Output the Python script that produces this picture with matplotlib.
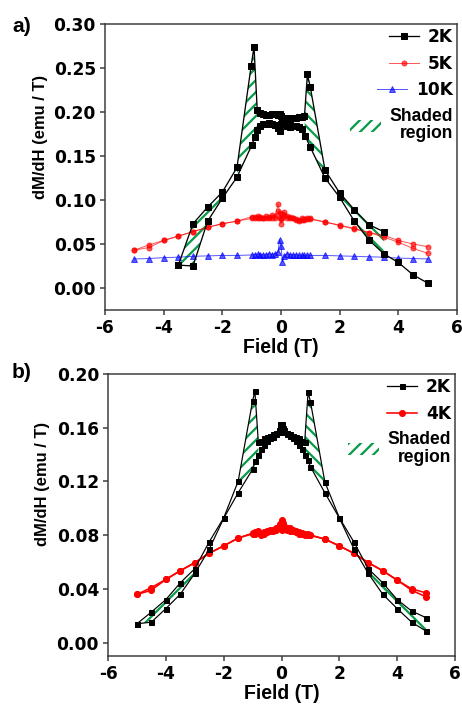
import numpy as np
import matplotlib
matplotlib.use('Agg')
import matplotlib.pyplot as plt
from matplotlib.lines import Line2D
from matplotlib.patches import Patch

plt.rcParams['axes.unicode_minus'] = False
plt.rcParams['hatch.linewidth'] = 2.3

# ---------------- data: panel a ----------------
x2a_desc = [5, 4.5, 4, 3.5, 3, 2.5, 2, 1.5, 1.0, 0.82, 0.7, 0.6, 0.5, 0.4, 0.3, 0.2, 0.1, 0.05, 0,
            -0.05, -0.1, -0.2, -0.3, -0.4, -0.5, -0.6, -0.7, -0.81, -0.92, -1.02, -1.5, -2, -2.5, -3, -3.5]
y2a_desc = [0.0056, 0.015, 0.029, 0.039, 0.0545, 0.076, 0.103, 0.125, 0.160, 0.173, 0.181, 0.183, 0.184,
            0.184, 0.183, 0.184, 0.186, 0.190, 0.195, 0.198, 0.197, 0.198, 0.198, 0.197, 0.197, 0.198,
            0.199, 0.202, 0.274, 0.252, 0.137, 0.109, 0.092, 0.073, 0.026]
x2a_asc = [-3.5, -3, -2.5, -2, -1.5, -1.0, -0.89, -0.83, -0.7, -0.6, -0.5, -0.4, -0.3, -0.2, -0.1, -0.05,
           0, 0.05, 0.1, 0.2, 0.3, 0.4, 0.5, 0.6, 0.7, 0.8, 0.9, 1.0, 1.5, 2, 2.5, 3, 3.5]
y2a_asc = [0.026, 0.025, 0.076, 0.102, 0.126, 0.162, 0.172, 0.180, 0.184, 0.186, 0.186, 0.187, 0.186,
           0.185, 0.182, 0.178, 0.186, 0.190, 0.193, 0.193, 0.192, 0.193, 0.193, 0.194, 0.194, 0.195,
           0.243, 0.228, 0.134, 0.108, 0.089, 0.072, 0.064]

x_grid = [-5, -4.5, -4, -3.5, -3, -2.5, -2, -1.5, -1, -0.9, -0.8, -0.7, -0.6, -0.5, -0.4, -0.3, -0.2,
          -0.1, -0.05, 0, 0.05, 0.1, 0.2, 0.3, 0.4, 0.5, 0.6, 0.7, 0.8, 0.9, 1, 1.5, 2, 2.5, 3, 3.5,
          4, 4.5, 5]
y5a_1 = [0.043, 0.046, 0.054, 0.059, 0.064, 0.069, 0.073, 0.076, 0.079, 0.081, 0.082, 0.080, 0.079,
         0.080, 0.081, 0.080, 0.082, 0.095, 0.085, 0.078, 0.084, 0.086, 0.082, 0.081, 0.079, 0.077,
         0.076, 0.077, 0.078, 0.079, 0.078, 0.075, 0.0714, 0.0677, 0.063, 0.060, 0.054, 0.050, 0.047]
y5a_2 = [0.043, 0.049, 0.054, 0.059, 0.064, 0.069, 0.073, 0.076, 0.081, 0.080, 0.079, 0.081, 0.080,
         0.082, 0.079, 0.083, 0.080, 0.087, 0.080, 0.073, 0.079, 0.083, 0.080, 0.079, 0.080, 0.078,
         0.077, 0.079, 0.077, 0.078, 0.079, 0.075, 0.071, 0.067, 0.063, 0.058, 0.052, 0.045, 0.0395]
y10a = [0.033, 0.0335, 0.0345, 0.035, 0.036, 0.0365, 0.037, 0.037, 0.0375, 0.038, 0.0385, 0.038,
        0.0375, 0.038, 0.039, 0.038, 0.039, 0.041, 0.055, 0.048, 0.030, 0.036, 0.039, 0.038, 0.0375,
        0.038, 0.037, 0.0375, 0.037, 0.0375, 0.037, 0.037, 0.0365, 0.036, 0.0355, 0.035, 0.034,
        0.0335, 0.033]

# ---------------- data: panel b ----------------
x2b_desc = [5, 4.5, 4, 3.5, 3, 2.5, 2, 1.5, 1.0, 0.9, 0.8, 0.7, 0.6, 0.5, 0.4, 0.3, 0.2, 0.1, 0.05, 0,
            -0.05, -0.1, -0.2, -0.3, -0.4, -0.5, -0.6, -0.7, -0.8, -0.92, -1.0, -1.5, -2, -2.5, -3,
            -3.5, -4, -4.5, -5]
y2b_desc = [0.0085, 0.0152, 0.0253, 0.036, 0.0515, 0.070, 0.0928, 0.1115, 0.131, 0.136, 0.140, 0.144,
            0.147, 0.150, 0.152, 0.154, 0.155, 0.157, 0.159, 0.161, 0.163, 0.158, 0.156, 0.155, 0.154,
            0.153, 0.152, 0.150, 0.149, 0.187, 0.180, 0.120, 0.0928, 0.075, 0.055, 0.0445, 0.032,
            0.0227, 0.014]
x2b_asc = [-5, -4.5, -4, -3.5, -3, -2.5, -2, -1.5, -1.0, -0.9, -0.8, -0.7, -0.6, -0.5, -0.4, -0.3,
           -0.2, -0.1, -0.05, 0, 0.05, 0.1, 0.2, 0.3, 0.4, 0.5, 0.6, 0.7, 0.8, 0.92, 1.0, 1.5, 2, 2.5,
           3, 3.5, 4, 4.5, 5]
y2b_asc = [0.014, 0.0152, 0.0253, 0.036, 0.0515, 0.0695, 0.0925, 0.1115, 0.129, 0.135, 0.140, 0.144,
           0.147, 0.150, 0.152, 0.153, 0.155, 0.157, 0.159, 0.163, 0.160, 0.158, 0.156, 0.155, 0.154,
           0.153, 0.152, 0.150, 0.149, 0.1865, 0.1795, 0.1195, 0.093, 0.075, 0.055, 0.0445, 0.032,
           0.0235, 0.0185]
y4b_1 = [0.0358, 0.041, 0.047, 0.0535, 0.0595, 0.0665, 0.072, 0.0778, 0.081, 0.082, 0.083, 0.081,
         0.082, 0.083, 0.084, 0.084, 0.085, 0.086, 0.088, 0.091, 0.089, 0.087, 0.085, 0.085, 0.084,
         0.083, 0.082, 0.081, 0.081, 0.080, 0.080, 0.077, 0.072, 0.0665, 0.0595, 0.0535, 0.0465,
         0.040, 0.037]
y4b_2 = [0.0358, 0.039, 0.047, 0.0535, 0.0595, 0.0665, 0.072, 0.0778, 0.0815, 0.081, 0.082, 0.080,
         0.081, 0.082, 0.083, 0.083, 0.084, 0.085, 0.086, 0.084, 0.086, 0.085, 0.084, 0.083, 0.083,
         0.082, 0.081, 0.0815, 0.080, 0.081, 0.080, 0.077, 0.072, 0.0665, 0.0595, 0.0535, 0.0465,
         0.039, 0.034]

xticks = [-6, -4, -2, 0, 2, 4, 6]
yticks_a = [0.00, 0.05, 0.10, 0.15, 0.20, 0.25, 0.30]
yticks_b = [0.00, 0.04, 0.08, 0.12, 0.16, 0.20]

GREEN = '#0a9c48'
SPINE = '#3a3a3a'
HATCH_L = '//'
HATCH_R = '\\\\'

DPI = 72
fig = plt.figure(figsize=(462 / DPI, 705 / DPI), dpi=DPI)
axa = fig.add_axes([105 / 462, 1 - 310 / 705, (457 - 105) / 462, (310 - 24) / 705])
axb = fig.add_axes([108 / 462, 1 - 656 / 705, (455 - 108) / 462, (656 - 374) / 705])


def shade(ax, xa, ya, xb, yb, lo, hi, hatch):
    xa, ya, xb, yb = map(np.asarray, (xa, ya, xb, yb))
    ma = (xa >= lo) & (xa <= hi)
    mb = (xb >= lo) & (xb <= hi)
    px = np.concatenate([xa[ma], xb[mb]])
    py = np.concatenate([ya[ma], yb[mb]])
    ax.fill(px, py, facecolor='none', edgecolor=GREEN, hatch=hatch, linewidth=0, zorder=1)


def style(ax, yticks, ylim):
    ax.set_xlim(-6, 6)
    ax.set_ylim(*ylim)
    ax.set_xticks(xticks)
    ax.set_xticklabels([str(t) for t in xticks])
    ax.set_yticks(yticks)
    ax.set_yticklabels(['%.2f' % t for t in yticks])
    for s in ax.spines.values():
        s.set_color(SPINE)
        s.set_linewidth(1.5)
    ax.tick_params(direction='out', length=5, width=1.5, color=SPINE, pad=4,
                   top=False, right=False)
    for lab in ax.get_xticklabels() + ax.get_yticklabels():
        lab.set_fontfamily('DejaVu Sans')
        lab.set_fontweight('bold')
        lab.set_fontsize(17)
    ax.set_xlabel('Field (T)', fontfamily='Liberation Sans', fontweight='bold', fontsize=19.5,
                  labelpad=1)
    ax.set_ylabel('dM/dH (emu / T)', fontfamily='Liberation Sans', fontweight='bold', fontsize=16.5)


def legend(ax, handles, labels):
    leg = ax.legend(handles, labels, loc='upper right', bbox_to_anchor=(1.0, 1.0), frameon=False,
                    borderaxespad=0.1, borderpad=0.15, handlelength=1.8, handletextpad=0.5,
                    labelspacing=0.5, numpoints=1,
                    prop={'family': 'DejaVu Sans', 'weight': 'bold', 'size': 17})
    for col in leg._legend_handle_box.get_children():
        col.align = 'right'
    t = leg.get_texts()[-1]
    t.set_fontfamily('Liberation Sans')
    t.set_fontsize(17.5)
    t.set_multialignment('right')
    t.set_linespacing(1.05)
    return leg


# ---------------- panel a ----------------
shade(axa, x2a_desc, y2a_desc, x2a_asc, y2a_asc, -1.55, -0.8, HATCH_L)
shade(axa, x2a_desc, y2a_desc, x2a_asc, y2a_asc, 0.79, 1.55, HATCH_R)
shade(axa, x2a_desc, y2a_desc, x2a_asc, y2a_asc, -3.55, -1.95, HATCH_L)
shade(axa, x2a_desc, y2a_desc, x2a_asc, y2a_asc, 1.95, 3.55, HATCH_R)

kw5 = dict(color='red', lw=1.0, marker='o', ms=5, alpha=0.65, zorder=2)
axa.plot(x_grid, y5a_1, **kw5)
axa.plot(x_grid, y5a_2, **kw5)
axa.plot(x_grid, y10a, color='blue', lw=1.0, marker='^', ms=6, alpha=0.65, zorder=2)
kw2 = dict(color='black', lw=1.3, marker='s', ms=6, zorder=3)
axa.plot(x2a_desc, y2a_desc, **kw2)
axa.plot(x2a_asc, y2a_asc, **kw2)
style(axa, yticks_a, (-0.025, 0.30))
axa.yaxis.set_label_coords(-0.162, 0.605)

h_a = [Line2D([], [], color='black', lw=1.3, marker='s', ms=6),
       Line2D([], [], color='red', lw=1.0, marker='o', ms=5, alpha=0.65),
       Line2D([], [], color='blue', lw=1.0, marker='^', ms=6, alpha=0.65),
       Patch(facecolor='none', edgecolor=GREEN, hatch=HATCH_L, linewidth=0)]
legend(axa, h_a, ['2K', '5K', '10K', 'Shaded\nregion'])

# ---------------- panel b ----------------
shade(axb, x2b_desc, y2b_desc, x2b_asc, y2b_asc, -1.55, -0.75, HATCH_L)
shade(axb, x2b_desc, y2b_desc, x2b_asc, y2b_asc, 0.75, 1.55, HATCH_R)
shade(axb, x2b_desc, y2b_desc, x2b_asc, y2b_asc, -5.05, -2.95, HATCH_L)
shade(axb, x2b_desc, y2b_desc, x2b_asc, y2b_asc, 2.95, 5.05, HATCH_R)

kw4 = dict(color='red', lw=1.6, marker='o', ms=6, zorder=2)
axb.plot(x_grid, y4b_1, **kw4)
axb.plot(x_grid, y4b_2, **kw4)
kw2b = dict(color='black', lw=1.2, marker='s', ms=5, zorder=3)
axb.plot(x2b_desc, y2b_desc, **kw2b)
axb.plot(x2b_asc, y2b_asc, **kw2b)
style(axb, yticks_b, (-0.01, 0.20))
axb.yaxis.set_label_coords(-0.167, 0.61)

h_b = [Line2D([], [], color='black', lw=1.3, marker='s', ms=5),
       Line2D([], [], color='red', lw=1.6, marker='o', ms=6),
       Patch(facecolor='none', edgecolor=GREEN, hatch=HATCH_L, linewidth=0)]
legend(axb, h_b, ['2K', '4K', 'Shaded\nregion'])

fig.text(12 / 462, 1 - 26 / 705, 'a)', fontfamily='Liberation Sans', fontweight='bold',
         fontsize=21, ha='left', va='center')
fig.text(12 / 462, 1 - 373 / 705, 'b)', fontfamily='Liberation Sans', fontweight='bold',
         fontsize=21, ha='left', va='center')

fig.savefig('out.png', dpi=DPI, facecolor='white')
